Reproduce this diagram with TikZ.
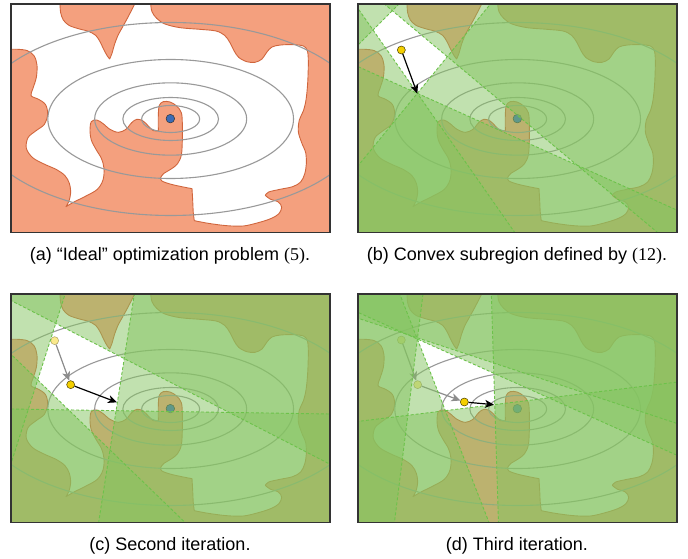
\documentclass[tikz,border=0pt]{standalone}
\usepackage{fontspec}
\setmainfont{Liberation Sans}
\newfontfamily\numfont{Liberation Serif}
\usetikzlibrary{calc,arrows.meta}

\definecolor{salmon}{HTML}{F4A07E}
\definecolor{salmonedge}{HTML}{D0653C}
\definecolor{contour}{HTML}{999999}
\definecolor{framegray}{HTML}{333333}
\definecolor{hpgreen}{HTML}{85C561}
\definecolor{hpdash}{HTML}{6CC24A}
\definecolor{optblue}{HTML}{3A6BB5}
\definecolor{iterate}{HTML}{F4CF00}
\definecolor{prevgray}{HTML}{8C8C8C}

\tikzset{
  freeedge/.style={fill=white, draw=salmonedge, line width=0.9pt, line join=round},
  contourline/.style={draw=contour, line width=1.1pt},
  panelframe/.style={draw=framegray, line width=1.4pt},
  hpfill/.style={fill=hpgreen, fill opacity=0.5},
  hpline/.style={draw=hpdash, line width=0.9pt, dash pattern=on 3pt off 2pt},
  optdot/.style={circle, fill=optblue, draw=black!80, line width=0.5pt, inner sep=0pt, minimum size=8.6pt},
  iterdot/.style={circle, fill=iterate, draw=black!70!iterate, line width=0.5pt, inner sep=0pt, minimum size=8pt},
  pastdot/.style={iterdot, opacity=0.45},
  steparrow/.style={-{Stealth[length=9pt,width=8pt,inset=2.5pt]}, line width=1.2pt, draw=black},
  prevarrow/.style={steparrow, draw=prevgray},
  caption/.style={font=\fontsize{18}{21}\selectfont, inner sep=0pt},
}

% obstacles, free space and level sets of the cost, in 1/3 px units
\newcommand\landscape{%
  \fill[salmon] (33,12) rectangle (990,697);
  \path[freeedge] (-60,-60) -- (180,-60)
    -- plot[smooth,tension=0.55] coordinates {(180,12) (182,38) (190,60) (207,76) (235,86) (265,94) (287,106) (300,125) (312,150) (322,168) (329,177)}
    -- plot[smooth,tension=0.55] coordinates {(329,177) (336,160) (343,135) (353,108) (366,84) (382,55) (395,30) (404,12)}
    -- (404,-60) -- (452,-60)
    -- plot[smooth,tension=0.55] coordinates {(452,12) (456,35) (470,55) (495,72) (540,83) (600,88) (648,93) (674,106) (690,128) (702,152) (716,172) (740,185) (765,187) (786,177) (800,157) (816,141) (842,135) (880,134) (910,138) (922,152) (925,185) (923,250) (918,300) (910,333) (898,360) (895,395) (905,428) (917,458) (919,492) (914,522) (902,546) (878,560) (840,568) (806,576) (796,586)}
    -- plot[smooth,tension=0.55] coordinates {(796,586) (810,597) (835,606) (845,622) (836,642) (812,656) (775,668) (730,678) (680,677) (625,670) (583,662)}
    -- plot[smooth,tension=0.55] coordinates {(583,662) (580,640) (578,600) (576,566)}
    -- plot[smooth,tension=0.55] coordinates {(576,566) (545,560) (510,552) (486,543) (482,533) (492,520) (512,508) (532,492) (544,465) (547,420) (547,370) (544,338) (530,318) (510,306) (490,305) (478,316) (475,345) (475,392)}
    -- plot[smooth,tension=0.55] coordinates {(475,392) (460,392) (445,378) (428,362) (410,358) (395,368) (378,388) (355,397) (330,388) (308,370) (290,360) (274,365) (270,390) (274,420) (288,448) (304,475) (312,505) (309,540) (292,568) (258,588) (222,606) (198,620)}
    -- plot[smooth,tension=0.55] coordinates {(198,620) (207,603) (212,578) (208,550) (195,527) (170,509) (132,492) (98,473) (79,445) (84,413) (107,393) (133,373) (143,342) (136,313) (114,297) (93,287) (99,265) (109,232) (111,195) (102,167) (82,152) (55,148) (33,148)}
    -- (-60,148) -- cycle;
  \foreach \rx/\ry in {87/40.5, 143.5/64.5, 228/108.5, 368.5/178.5, 585/289.5}
    \draw[contourline] (512,357) ellipse[x radius=\rx, y radius=\ry];
  \node[optdot] (opt) at (511,356) {};
}

% half-planes: the side to the right of the directed line a -> b is covered
\newcommand\halfplanes[1]{%
  \foreach \ax/\ay/\bx/\by in {#1}{
    \path ($(\ax,\ay)!-1500pt!(\bx,\by)$) coordinate (hpa)
          ($(\ax,\ay)!1500pt!(\bx,\by)$) coordinate (hpb);
    \fill[hpfill] (hpa) -- (hpb) -- ($(hpb)!1500pt!90:(hpa)$) -- ($(hpa)!1500pt!-90:(hpb)$) -- cycle;
  }
  \foreach \ax/\ay/\bx/\by in {#1}{
    \draw[hpline] ($(\ax,\ay)!-1500pt!(\bx,\by)$) -- ($(\ax,\ay)!1500pt!(\bx,\by)$);
  }
}

\begin{document}
\begin{tikzpicture}[x=1pt, y=-1pt]
\useasboundingbox (0,0) rectangle (688,559);

% (a) the original problem
\begin{scope}[x=0.33333pt, y=-0.33333pt]
  \begin{scope}
    \clip (33,12) rectangle (990,697);
    \landscape
  \end{scope}
  \draw[panelframe] (33,12) rectangle (990,697);
\end{scope}

% (b) first convex subregion
\begin{scope}[shift={(347,0)}, x=0.33333pt, y=-0.33333pt]
  \begin{scope}
    \clip (33,12) rectangle (990,697);
    \landscape
    \halfplanes{136/32/78/90, 78/90/211/280, 301/170/136/32, 211/280/301/170, 211/280/711/505}
  \end{scope}
  \coordinate (b2) at (211,281);
  \node[iterdot] (b1) at (163,150) {};
  \draw[steparrow] (b1) -- (b2);
  \draw[panelframe] (33,12) rectangle (990,697);
\end{scope}

% (c) second iteration
\begin{scope}[shift={(0,290)}, x=0.33333pt, y=-0.33333pt]
  \begin{scope}
    \clip (33,12) rectangle (990,697);
    \landscape
    \node[pastdot] (c1) at (164,152) {};
    \halfplanes{985/520/40/35, 166/104/113/270, 328/492/403/12, 33/357/990/372, 113/270/203/357}
  \end{scope}
  \node[iterdot] (c2) at (212,284) {};
  \coordinate (c3) at (351,337);
  \draw[prevarrow] (c1) -- (c2);
  \draw[steparrow] (c2) -- (c3);
  \draw[panelframe] (33,12) rectangle (990,697);
\end{scope}

% (d) third iteration
\begin{scope}[shift={(347,290)}, x=0.33333pt, y=-0.33333pt]
  \begin{scope}
    \clip (33,12) rectangle (990,697);
    \landscape
    \node[pastdot] (d1) at (163,150) {};
    \node[pastdot] (d2) at (212,284) {};
    \coordinate (d3c) at (352,336);
    \draw[prevarrow] (d1) -- (d2);
    \draw[prevarrow, shorten >=4.2pt] (d2) -- (d3c);
    \halfplanes{989/400/34/85, 441/250/211/147, 448/492/433/12, 295/362/441/344, 211/147/295/362, 228/12/168/492}
  \end{scope}
  \node[iterdot] (d3) at (352,336) {};
  \coordinate (d4) at (441,344);
  \draw[steparrow] (d3) -- (d4);
  \draw[panelframe] (33,12) rectangle (990,697);
\end{scope}

% captions
\node[caption] (capa) at (170,256) {(a) “Ideal” optimization problem {\numfont(5)}.};
\node[caption] (capb) at (517,256) {(b) Convex subregion defined by {\numfont(12)}.};
\node[caption] (capc) at (170,546) {(c) Second iteration.};
\node[caption] (capd) at (517,546) {(d) Third iteration.};
\end{tikzpicture}
\end{document}
